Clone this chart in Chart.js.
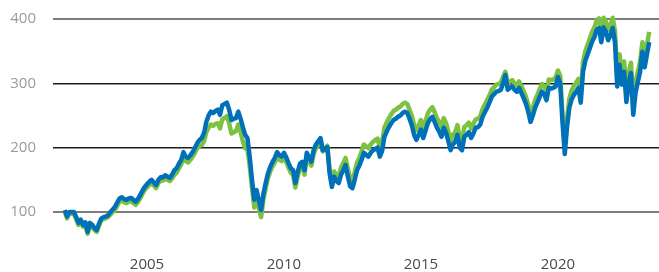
<!DOCTYPE html>
<html><head><meta charset="utf-8">
<script src="https://cdn.jsdelivr.net/npm/chart.js@4"></script>
<style>html,body{margin:0;padding:0;background:#fff;overflow:hidden}</style>
</head><body>
<canvas id="c" width="659" height="272"></canvas>
<script>
// Monthly series, first value = January 2002
const startYear = 2002;
const blueSeries = [
103,93,100,100,100,92,83,88,80,84,69,83,
80,75,72,82,90,92,93,95,100,104,108,115,
121,123,120,119,121,122,119,116,120,126,133,139,
143,147,150,146,142,150,154,154,157,155,153,158,
165,168,175,181,193,186,184,188,193,200,207,212,
215,223,240,250,256,254,257,259,251,266,268,270,
259,243,245,246,256,245,232,220,215,186,150,119,
134,118,103,128,145,160,170,178,184,193,188,186,
192,185,176,168,165,145,162,175,178,165,192,185,
178,196,205,210,215,196,198,201,160,139,155,148,
145,158,165,173,155,140,137,150,165,172,181,192,
189,186,192,196,198,200,186,195,217,225,232,238,
243,245,248,250,254,256,254,245,235,220,212,220,
228,215,226,238,244,248,240,231,225,217,231,223,
210,196,205,209,220,200,196,217,220,224,215,222,
231,232,236,248,255,262,270,279,283,287,288,290,
300,313,290,293,295,290,287,293,285,277,268,256,
240,250,262,270,279,287,283,274,293,292,293,295,
310,300,240,190,232,262,275,282,287,293,270,318,
335,345,355,365,372,383,386,364,387,380,367,375,
386,364,295,329,298,318,271,300,316,251,285,302,
318,349,325,345,364
];
const greenSeries = [
101,90,98,97,97,89,80,85,77,81,66,80,
77,72,69,79,87,89,90,92,96,100,103,110,
116,118,115,114,116,117,114,111,115,121,128,134,
138,142,145,141,137,145,149,149,152,150,148,152,
158,161,168,174,186,179,177,181,186,192,199,203,
204,210,224,231,236,234,237,238,230,244,246,249,
238,222,224,226,236,224,210,199,198,172,138,107,
122,106,92,120,137,153,163,171,177,186,181,179,
185,178,169,161,158,138,155,168,171,158,185,178,
172,190,199,205,211,194,198,203,166,146,163,157,
155,169,176,184,167,152,149,162,177,184,194,205,
202,199,205,209,212,214,200,209,231,239,246,252,
257,259,262,264,268,270,268,259,250,235,227,235,
243,230,241,253,259,263,255,246,240,232,246,238,
225,211,220,224,235,215,211,232,235,239,230,237,
244,245,249,260,267,274,281,290,294,298,299,301,
310,318,300,303,305,300,297,303,296,288,279,267,
252,262,274,282,291,299,295,287,306,305,306,309,
320,312,252,203,245,276,289,296,301,307,285,333,
350,360,370,380,387,398,401,380,402,396,383,391,
402,381,312,345,315,334,289,317,332,270,302,318,
334,364,341,360,380
];
const xTickLabels = [2005, 2010, 2015, 2020];
const yTickValues = [100, 200, 300, 400];

const toPoints = arr => arr.map((v, i) => ({ x: startYear + i / 12, y: v }));

new Chart(document.getElementById('c'), {
  type: 'line',
  data: {
    datasets: [
      { label: 'blue', data: toPoints(blueSeries), borderColor: '#0071b9', borderWidth: 4.5,
        pointRadius: 0, tension: 0, borderJoinStyle: 'round', fill: false },
      { label: 'green', data: toPoints(greenSeries), borderColor: '#7cc142', borderWidth: 4.5,
        pointRadius: 0, tension: 0, borderJoinStyle: 'round', fill: false }
    ]
  },
  options: {
    responsive: false,
    animation: false,
    devicePixelRatio: 1,
    plugins: { legend: { display: false }, tooltip: { enabled: false } },
    layout: { padding: { top: 10, left: 10, right: 0, bottom: 0 } },
    scales: {
      x: {
        type: 'linear',
        min: 2001.57,
        max: 2023.69,
        afterBuildTicks: s => { s.ticks = xTickLabels.map(v => ({ value: v })); },
        afterFit: s => { s.height = 24; s.paddingLeft = 0; s.paddingRight = 0; },
        grid: { display: false, drawTicks: false },
        border: { display: false },
        ticks: {
          autoSkip: false, maxRotation: 0, padding: 10,
          color: '#4a4a4a',
          font: { family: '"Open Sans"', size: 15, lineHeight: '14px' },
          callback: v => String(v)
        }
      },
      y: {
        min: 44,
        max: 414,
        afterBuildTicks: s => { s.ticks = yTickValues.map(v => ({ value: v })); },
        afterFit: s => { s.width = 43; s.paddingTop = 0; s.paddingBottom = 0; },
        grid: {
          drawTicks: false,
          color: c => (c.tick && (c.tick.value === 100 || c.tick.value === 400)) ? '#7d7d7d' : '#1e1e1e',
          lineWidth: c => (c.tick && (c.tick.value === 100 || c.tick.value === 400)) ? 2 : 1.5
        },
        border: { display: false },
        ticks: {
          padding: 17,
          color: '#9a9a9a',
          font: { family: '"Open Sans"', size: 15 },
          callback: v => String(v)
        }
      }
    }
  }
});
</script>
</body></html>
